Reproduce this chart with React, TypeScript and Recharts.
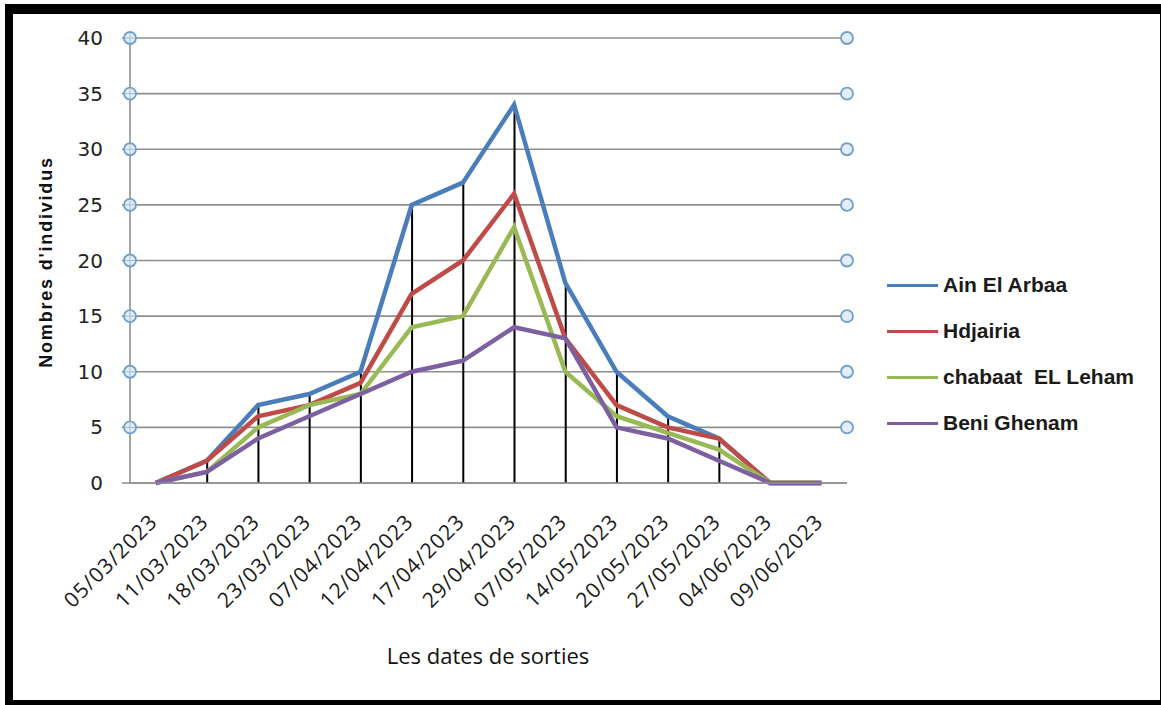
import { Bar, CartesianGrid, ComposedChart, Legend, Line, XAxis, YAxis } from "recharts";

const DATES = [
  "05/03/2023",
  "11/03/2023",
  "18/03/2023",
  "23/03/2023",
  "07/04/2023",
  "12/04/2023",
  "17/04/2023",
  "29/04/2023",
  "07/05/2023",
  "14/05/2023",
  "20/05/2023",
  "27/05/2023",
  "04/06/2023",
  "09/06/2023",
];

const AIN_EL_ARBAA = [0, 2, 7, 8, 10, 25, 27, 34, 18, 10, 6, 4, 0, 0];
const HDJAIRIA = [0, 2, 6, 7, 9, 17, 20, 26, 13, 7, 5, 4, 0, 0];
const CHABAAT_EL_LEHAM = [0, 1, 5, 7, 8, 14, 15, 23, 10, 6, 4.5, 3, 0, 0];
const BENI_GHENAM = [0, 1, 4, 6, 8, 10, 11, 14, 13, 5, 4, 2, 0, 0];

const Y_TICKS = [0, 5, 10, 15, 20, 25, 30, 35, 40];

const SERIES = [
  { key: "ain", name: "Ain El Arbaa", color: "#4a7ebb", values: AIN_EL_ARBAA },
  { key: "hdj", name: "Hdjairia", color: "#be4b48", values: HDJAIRIA },
  { key: "chab", name: "chabaat  EL Leham", color: "#98b954", values: CHABAAT_EL_LEHAM },
  { key: "beni", name: "Beni Ghenam", color: "#7d60a0", values: BENI_GHENAM },
];

// one row per date, plus the drop line height (highest series)
const data = DATES.map((date, i) => {
  const row: Record<string, string | number> = { date };
  for (const s of SERIES) row[s.key] = s.values[i];
  row.drop = Math.max(...SERIES.map((s) => s.values[i]));
  return row;
});

const GRID = "#8f8f8f";

function Marker({ cx, cy, cross }: { cx: number; cy: number; cross?: boolean }) {
  return (
    <g>
      <circle cx={cx} cy={cy} r={6} fill="#e3eef8" stroke="#6f9fcc" strokeWidth={1.8} />
      {cross && (
        <>
          <line x1={cx - 5} x2={cx + 5} y1={cy} y2={cy} stroke="#9cbedd" strokeWidth={1} />
          <line x1={cx} x2={cx} y1={cy - 5} y2={cy + 5} stroke="#9cbedd" strokeWidth={1} />
        </>
      )}
    </g>
  );
}

function LeftTick(props: any) {
  const { x, y, payload } = props;
  return (
    <g>
      <text
        x={x}
        y={y}
        dy={7}
        textAnchor="end"
        fontFamily="DejaVu Sans"
        fontSize={20}
        fill="#222"
      >
        {payload.value}
      </text>
      {payload.value !== 0 && <Marker cx={x + 27} cy={y} cross />}
    </g>
  );
}

function RightTick(props: any) {
  const { x, y, payload } = props;
  if (payload.value === 0) return <g />;
  return <Marker cx={x} cy={y} />;
}

function DateTick(props: any) {
  const { x, y, payload } = props;
  return (
    <g transform={`translate(${x + 3},${y + 40})`}>
      <text
        transform="rotate(-45)"
        textAnchor="end"
        fontFamily="Open Sans"
        fontSize={21}
        letterSpacing={1}
        fill="#1a1a1a"
      >
        {payload.value}
      </text>
    </g>
  );
}

function LegendBox() {
  return (
    <div>
      {SERIES.map((s) => (
        <div
          key={s.key}
          style={{ display: "flex", alignItems: "center", height: 46 }}
        >
          <div style={{ width: 51, height: 3, background: s.color, marginRight: 5 }} />
          <span
            style={{
              fontFamily: "Liberation Sans",
              fontWeight: "bold",
              fontSize: 21,
              color: "#1a1a1a",
              whiteSpace: "pre",
            }}
          >
            {s.name}
          </span>
        </div>
      ))}
    </div>
  );
}

export default function App() {
  return (
    <div
      style={{
        position: "absolute",
        left: 0,
        top: 0,
        width: 1161,
        height: 705,
        overflow: "hidden",
        background: "#fff",
      }}
    >
      <div
        style={{
          position: "absolute",
          left: 5,
          top: 4,
          width: 1163,
          height: 704,
          boxSizing: "border-box",
          borderStyle: "solid",
          borderColor: "#000",
          borderWidth: "10px 8px 8px 8px",
        }}
      />
      <div style={{ position: "absolute", left: 0, top: 0 }}>
        <ComposedChart
          width={1161}
          height={705}
          data={data}
          margin={{ top: 38, right: 304, bottom: 122, left: 70 }}
        >
          <CartesianGrid
            yAxisId="left"
            vertical={false}
            stroke={GRID}
            strokeWidth={1.6}
          />
          <XAxis
            dataKey="date"
            height={100}
            interval={0}
            axisLine={{ stroke: GRID, strokeWidth: 1.6 }}
            tickLine={false}
            tickSize={0}
            tickMargin={0}
            tick={<DateTick />}
          />
          <YAxis
            yAxisId="left"
            width={60}
            domain={[0, 40]}
            ticks={Y_TICKS}
            interval={0}
            axisLine={{ stroke: GRID, strokeWidth: 1.6 }}
            tickLine={{ stroke: GRID, strokeWidth: 1.6 }}
            tickSize={8}
            tickMargin={19}
            tick={<LeftTick />}
          />
          <YAxis
            yAxisId="right"
            orientation="right"
            width={10}
            domain={[0, 40]}
            ticks={Y_TICKS}
            interval={0}
            axisLine={false}
            tickLine={false}
            tickSize={0}
            tickMargin={0}
            tick={<RightTick />}
          />
          {/* invisible series so the right-hand axis gets drawn */}
          <Line
            yAxisId="right"
            dataKey="drop"
            stroke="none"
            dot={false}
            activeDot={false}
            legendType="none"
            isAnimationActive={false}
          />
          {SERIES.map((s) => (
            <Line
              key={s.key}
              yAxisId="left"
              type="linear"
              dataKey={s.key}
              name={s.name}
              stroke={s.color}
              strokeWidth={4.5}
              dot={false}
              activeDot={false}
              isAnimationActive={false}
            />
          ))}
          <Bar
            yAxisId="left"
            dataKey="drop"
            barSize={2}
            fill="#000"
            legendType="none"
            isAnimationActive={false}
          />
          <Legend
            verticalAlign="middle"
            align="center"
            content={<LegendBox />}
            wrapperStyle={{ position: "absolute", left: 887, top: 262, width: 270, height: 184 }}
          />
        </ComposedChart>
      </div>
      <div
        style={{
          position: "absolute",
          left: 46,
          top: 262,
          transform: "translate(-50%, -50%) rotate(-90deg)",
          fontFamily: "Liberation Sans",
          fontWeight: "bold",
          fontSize: 18,
          letterSpacing: 1.8,
          whiteSpace: "nowrap",
          color: "#111",
        }}
      >
        Nombres d'individus
      </div>
      <div
        style={{
          position: "absolute",
          left: 488,
          top: 655,
          transform: "translate(-50%, -50%)",
          fontFamily: "Open Sans",
          fontSize: 22,
          whiteSpace: "nowrap",
          color: "#111",
        }}
      >
        Les dates de sorties
      </div>
    </div>
  );
}
